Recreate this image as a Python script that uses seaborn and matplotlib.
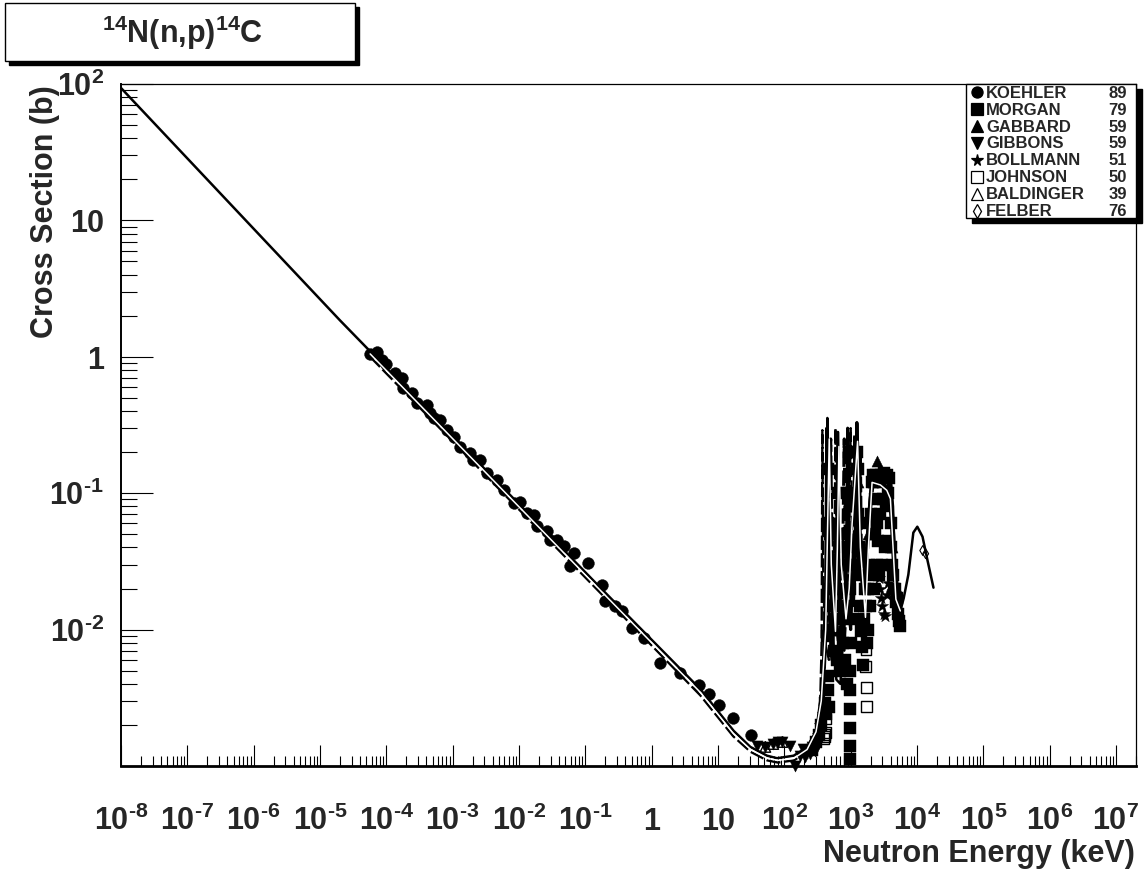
import numpy as np
import pandas as pd
import matplotlib
matplotlib.use("Agg")
import matplotlib.pyplot as plt
import seaborn as sns
from matplotlib.ticker import FixedLocator, LogLocator, NullFormatter
from matplotlib.transforms import offset_copy
from matplotlib.patches import Rectangle
from matplotlib.lines import Line2D

# ---------------- data (energy in keV, cross section in b) ----------------
curveA_E = [1e-8, 2.0e-5, 0.168, 5.4, 17.2, 30.7, 54.8, 77.6, 138, 220, 311, 392, 430, 445, 462,
            490, 540, 608, 700, 800, 870, 923, 960, 1000, 1100, 1200, 1260, 1330, 1450, 1670,
            1850, 2120, 2500, 2800, 3300, 3970, 4400, 4700, 5200, 5600, 6300, 7400, 8800,
            10100, 12100, 14300, 17700]
curveA_sig = [93.5, 1.85, 0.0203, 3.66e-3, 1.81e-3, 1.38e-3, 1.19e-3, 1.14e-3, 1.19e-3, 1.37e-3,
              1.86e-3, 3.09e-3, 0.0166, 0.356, 0.09, 0.025, 0.009, 4.3e-3, 4.0e-3, 0.012, 0.06,
              0.278, 0.05, 0.0166, 0.022, 0.08, 0.32, 0.08, 0.04, 0.0326, 0.07, 0.137, 0.14,
              0.142, 0.14, 0.137, 0.06, 0.0326, 0.018, 0.0137, 0.017, 0.0253, 0.0514, 0.0568,
              0.048, 0.0326, 0.0203]

curveC_E = [5.7e-5, 0.17, 5.4, 17, 31, 55, 80, 140, 220, 300, 345, 365, 374, 384, 410, 470, 540,
            575, 590, 610, 680, 800, 930, 1000, 1060, 1150, 1280, 1380, 1600, 1800, 2050, 2400,
            3000, 3800, 4300, 4800, 5400]
curveC_sig = [1.0, 0.0185, 3.3e-3, 1.65e-3, 1.27e-3, 1.1e-3, 1.06e-3, 1.1e-3, 1.28e-3, 1.7e-3,
              2.6e-3, 8e-3, 0.29, 0.03, 8e-3, 6e-3, 0.012, 0.06, 0.30, 0.05, 9e-3, 7e-3, 0.03,
              0.30, 0.04, 0.02, 0.26, 0.05, 0.03, 0.05, 0.13, 0.135, 0.13, 0.125, 0.05, 0.02, 0.012]

curveD_E = [300, 380, 420, 435, 450, 520, 600, 640, 680, 780, 870, 900, 940, 1100, 1200, 1240,
            1300, 1500, 1700, 2000, 2300, 2800, 3300, 3900, 4300, 4600, 5000, 5600]
curveD_sig = [1.7e-3, 4e-3, 0.02, 0.30, 0.02, 6e-3, 0.02, 0.28, 0.02, 8e-3, 0.03, 0.30, 0.03,
              0.015, 0.05, 0.33, 0.05, 0.02, 0.03, 0.10, 0.14, 0.14, 0.14, 0.14, 0.08, 0.03,
              0.015, 0.012]

curveE_E = [320, 400, 470, 500, 530, 700, 760, 800, 840, 1000, 1120, 1150, 1180, 1350, 1400,
            1450, 1650, 1900, 2200, 2600, 3200, 3700, 4100, 4500, 5200]
curveE_sig = [2e-3, 5e-3, 0.03, 0.25, 0.02, 6e-3, 0.04, 0.25, 0.02, 0.01, 0.05, 0.27, 0.04,
              0.03, 0.2, 0.03, 0.02, 0.06, 0.125, 0.13, 0.125, 0.12, 0.06, 0.025, 0.012]

curveW_E = [5.7e-5, 0.17, 5.4, 17, 31, 55, 80, 140, 220, 300, 360, 420, 475, 510, 590, 630, 665,
            720, 850, 950, 1050, 1270, 1400, 1670, 1850, 2100, 2800, 3500, 3970, 4800, 5600]
curveW_sig = [1.05, 0.0193, 3.47e-3, 1.73e-3, 1.32e-3, 1.14e-3, 1.1e-3, 1.14e-3, 1.32e-3, 1.78e-3,
              3.0e-3, 0.01, 0.25, 0.03, 9.7e-3, 0.04, 0.22, 0.03, 0.012, 0.02, 0.06, 0.24, 0.04,
              0.0123, 0.04, 0.12, 0.115, 0.105, 0.091, 0.0167, 0.0137]

koehler_E = [5.70e-5, 7.2e-5, 8.55e-5, 9.84e-5, 1.36e-4, 1.71e-4, 1.81e-4, 2.43e-4, 2.88e-4,
             4.08e-4, 4.58e-4, 5.14e-4, 6.48e-4, 8.17e-4, 1.03e-3, 1.30e-3, 1.84e-3, 2.06e-3,
             2.60e-3, 3.28e-3, 4.64e-3, 5.84e-3, 8.26e-3, 0.0104, 0.0131, 0.0166, 0.0186, 0.0264,
             0.0295, 0.0372, 0.0469, 0.0664, 0.0590, 0.111, 0.178, 0.200, 0.282, 0.356, 0.505,
             0.755, 1.32, 2.70, 5.09, 7.21, 10.5, 16.8, 31.5]
koehler_sig = [1.057, 1.086, 0.944, 0.893, 0.755, 0.694, 0.586, 0.539, 0.456, 0.443, 0.385, 0.354,
               0.344, 0.291, 0.259, 0.219, 0.196, 0.175, 0.175, 0.140, 0.125, 0.106, 0.0847,
               0.0869, 0.0715, 0.0695, 0.0571, 0.0525, 0.0456, 0.0456, 0.0407, 0.0365, 0.0291,
               0.0308, 0.0214, 0.0161, 0.0149, 0.0137, 0.0103, 8.73e-3, 5.67e-3, 4.84e-3,
               3.93e-3, 3.36e-3, 2.79e-3, 2.24e-3, 1.69e-3]

morgan_E = [415, 420, 440, 450, 452, 455, 455, 460, 465,
            520, 560, 600, 620, 700, 700, 760, 800, 820, 880,
            940, 960, 970, 980, 990, 990, 990, 990, 990, 1000,
            1300, 1350, 1400, 1450, 1500, 1550, 1600, 1700,
            1900, 2000, 2100, 2200, 2300, 2400, 2500, 2600, 2700, 2900,
            3000, 3200, 3300, 3500, 3600, 3800, 4000,
            4200, 4500, 4800, 5100, 5400, 5600,
            260, 300, 330, 360,
            1800, 1850, 1950, 2050, 2250, 2350, 2450, 2550, 2800, 3100, 3400, 3700, 4100, 4400,
            4700, 5000, 1750, 1620,
            480, 500, 540, 580, 650, 660, 720, 740, 780, 850, 900, 910, 1050, 1100, 1150, 1200,
            1250, 1270, 1380, 1420]
morgan_sig = [2.9e-3, 2.4e-3, 9e-3, 0.02, 0.06, 0.15, 4.6e-3, 3.6e-3, 2.7e-3,
              0.01, 7e-3, 0.03, 6e-3, 5e-3, 0.02, 8e-3, 0.03, 6e-3, 4e-3,
              0.2, 0.08, 0.02, 5e-3, 3.6e-3, 2.6e-3, 1.9e-3, 1.4e-3, 1.13e-3, 8e-3,
              0.15, 0.04, 0.015, 9.7e-3, 7.5e-3, 5.5e-3, 0.012, 0.015,
              0.03, 0.07, 0.12, 0.137, 0.05, 0.137, 0.03, 0.13, 0.025, 0.135,
              0.03, 0.14, 0.04, 0.135, 0.045, 0.13, 0.06,
              0.03, 0.02, 0.016, 0.013, 0.0115, 0.0107,
              1.3e-3, 1.5e-3, 1.7e-3, 2.0e-3,
              0.01, 0.02, 0.015, 0.025, 0.02, 0.09, 0.06, 0.045, 0.07, 0.09, 0.08, 0.1, 0.04, 0.025,
              0.02, 0.017, 0.008, 0.02,
              0.05, 0.02, 0.015, 0.012, 0.1, 0.04, 0.012, 0.05, 0.015, 0.015, 0.1, 0.04, 0.03,
              0.012, 0.08, 0.03, 0.2, 0.07, 0.025, 0.06]

gabbard_E = [2500, 700, 1000, 1300, 1800, 2200, 3000, 3500, 4200, 5000]
gabbard_sig = [0.172, 0.01, 0.1, 0.12, 0.05, 0.12, 0.12, 0.11, 0.04, 0.02]

gibbons_E = [39.2, 51.7, 68, 80, 93.3, 123, 146, 174, 194, 207, 247, 264, 294, 326]
gibbons_sig = [1.40e-3, 1.38e-3, 1.45e-3, 1.5e-3, 1.50e-3, 1.40e-3, 1.0e-3, 1.18e-3, 1.34e-3,
               1.16e-3, 1.23e-3, 1.38e-3, 1.29e-3, 1.45e-3]

bollmann_E = [200, 230, 260, 290, 320, 350, 380, 2700, 2800, 2900, 3000, 3150, 3300, 3500, 3700]
bollmann_sig = [1.25e-3, 1.3e-3, 1.4e-3, 1.5e-3, 1.7e-3, 2.0e-3, 2.4e-3, 0.024, 0.02, 0.017,
                0.015, 0.013, 0.0125, 0.018, 0.022]

johnson_E = [415, 415, 395, 400, 405, 1670, 1730, 1730, 1700]
johnson_sig = [2.21e-3, 1.77e-3, 1.6e-3, 1.65e-3, 1.7e-3, 5.38e-3, 3.77e-3, 2.75e-3, 7.2e-3]

baldinger_E = [51.7, 68, 93.3]
baldinger_sig = [1.38e-3, 1.45e-3, 1.5e-3]

felber_E = [12200, 13500]
felber_sig = [0.038, 0.036]

legend_names = ["KOEHLER", "MORGAN", "GABBARD", "GIBBONS", "BOLLMANN", "JOHNSON", "BALDINGER", "FELBER"]
legend_counts = ["89", "79", "59", "59", "51", "50", "39", "76"]

x_tick_exps = list(range(-8, 8))
y_tick_exps = [-2, -1, 0, 1, 2]

title_text = r"$^{14}$N(n,p)$^{14}$C"
xlabel_text = "Neutron Energy (keV)"
ylabel_text = "Cross Section (b)"

# ---------------- style ----------------
sns.set_theme(style="white")
plt.rcParams["font.family"] = ["Liberation Sans", "DejaVu Sans"]
plt.rcParams["font.weight"] = "bold"
plt.rcParams["mathtext.fontset"] = "custom"
plt.rcParams["mathtext.rm"] = "Liberation Sans:bold"
plt.rcParams["mathtext.bf"] = "Liberation Sans:bold"
plt.rcParams["mathtext.it"] = "Liberation Sans:bold"
plt.rcParams["mathtext.sf"] = "Liberation Sans:bold"
plt.rcParams["mathtext.default"] = "rm"

W, H = 1144, 870
fig = plt.figure(figsize=(W / 100, H / 100), dpi=100)
fig.patch.set_facecolor("white")
L, R, T, B = 121, 1136, 85, 767
ax = fig.add_axes([L / W, 1 - B / H, (R - L) / W, (B - T) / H])
ax.set_facecolor("white")
ax.set_xscale("log")
ax.set_yscale("log")


def fx(px):
    return px / W


def fy(py):
    return 1 - py / H


def exp_label(k):
    if k == 0:
        return "1"
    if k == 1:
        return "10"
    if k < 0:
        return r"$10^{\text{-%d}}$" % (-k)
    return r"$10^{%d}$" % k


# ---------------- markers ----------------
def scat(E, s, marker, filled=True, size=62, z=3, lw=1.0):
    df = pd.DataFrame({"E": E, "sigma": s})
    if filled:
        sns.scatterplot(data=df, x="E", y="sigma", marker=marker, s=size, color="black",
                        edgecolor="black", linewidth=0.3, ax=ax, zorder=z, clip_on=False,
                        legend=False)
    else:
        sns.scatterplot(data=df, x="E", y="sigma", marker=marker, s=size, color="black",
                        facecolor="none", edgecolor="black", linewidth=lw, ax=ax, zorder=z,
                        clip_on=False, legend=False)

scat(koehler_E, koehler_sig, "o", size=72)
scat(morgan_E, morgan_sig, "s", size=64)
scat(gabbard_E, gabbard_sig, "^", size=64)
scat(gibbons_E, gibbons_sig, "v", size=64)
scat(bollmann_E, bollmann_sig, "*", size=85)
scat(johnson_E, johnson_sig, "s", filled=False, size=62)
scat(baldinger_E, baldinger_sig, "^", filled=False, size=58)
scat(felber_E, felber_sig, "d", filled=False, size=25, lw=0.8)

# ---------------- curves ----------------
def curve(E, s, color, lw, ls="-", z=4):
    df = pd.DataFrame({"E": E, "sigma": s})
    sns.lineplot(data=df, x="E", y="sigma", sort=False, estimator=None, color=color,
                 linewidth=lw, linestyle=ls, ax=ax, zorder=z)

curve(curveE_E, curveE_sig, "black", 2.2, (0, (5, 1.2)), z=4)
curve(curveD_E, curveD_sig, "black", 2.2, "-", z=4)
curve(curveC_E, curveC_sig, "black", 1.7, (0, (6, 1.5)), z=4)
curve(curveA_E, curveA_sig, "black", 1.8, "-", z=5)
curve(curveW_E, curveW_sig, "white", 1.1, "-", z=6)

# ---------------- axes ----------------
ax.set_xlim(1e-8, 2.0e7)
ax.set_ylim(1e-3, 1e2)
ax.set_xlabel("")
ax.set_ylabel("")
ax.xaxis.set_major_locator(FixedLocator([10.0 ** k for k in x_tick_exps]))
ax.yaxis.set_major_locator(FixedLocator([10.0 ** k for k in y_tick_exps]))
ax.xaxis.set_minor_locator(LogLocator(base=10, subs=np.arange(2, 10), numticks=400))
ax.yaxis.set_minor_locator(LogLocator(base=10, subs=np.arange(2, 10), numticks=400))
for axis in (ax.xaxis, ax.yaxis):
    axis.set_major_formatter(NullFormatter())
    axis.set_minor_formatter(NullFormatter())
ax.tick_params(axis="x", which="major", direction="in", length=15, width=0.8, color="black",
               bottom=True, top=False)
ax.tick_params(axis="x", which="minor", direction="in", length=7.5, width=0.8, color="black",
               bottom=True, top=False)
ax.tick_params(axis="y", which="major", direction="in", length=23, width=0.8, color="black",
               left=True, right=False)
ax.tick_params(axis="y", which="minor", direction="in", length=11.5, width=0.8, color="black",
               left=True, right=False)
for side, lw in (("left", 1.4), ("bottom", 2.0), ("top", 0.9), ("right", 0.9)):
    ax.spines[side].set_visible(True)
    ax.spines[side].set_color("black")
    ax.spines[side].set_linewidth(lw)
    ax.spines[side].set_zorder(10)

# tick labels as text at the tick positions
xlab_tr = offset_copy(ax.get_xaxis_transform(), fig=fig, x=0, y=-63, units="dots")
for k in x_tick_exps:
    ax.text(10.0 ** k, 0, exp_label(k), transform=xlab_tr, ha="center", va="baseline",
            fontsize=22, fontweight="bold", clip_on=False)
ylab_tr = offset_copy(ax.get_yaxis_transform(), fig=fig, x=-17, y=-11, units="dots")
for k in y_tick_exps:
    ax.text(0, 10.0 ** k, exp_label(k), transform=ylab_tr, ha="right", va="baseline",
            fontsize=22, fontweight="bold", clip_on=False)

fig.text(fx(1135), fy(862), xlabel_text, ha="right", va="baseline", fontsize=22,
         fontweight="bold")
fig.text(fx(45), fy(85), ylabel_text, ha="center", va="top", rotation=90, fontsize=22,
         fontweight="bold")

# ---------------- title box ----------------
fig.add_artist(Rectangle((fx(9), fy(66)), (355 - 5) / W, (62 - 4) / H, transform=fig.transFigure,
                         facecolor="black", edgecolor="black", zorder=20))
fig.add_artist(Rectangle((fx(5), fy(62)), (355 - 5) / W, (62 - 4) / H, transform=fig.transFigure,
                         facecolor="white", edgecolor="black", linewidth=1.0, zorder=21))
fig.text(fx(183), fy(33), title_text, ha="center", va="center", fontsize=22, fontweight="bold",
         zorder=22)

# ---------------- legend box ----------------
lx0, lx1, ly0, ly1 = 966, 1136, 85, 219
fig.add_artist(Rectangle((fx(lx0 + 6), fy(ly1 + 5)), (lx1 - lx0) / W, (ly1 - ly0) / H,
                         transform=fig.transFigure, facecolor="black", edgecolor="black",
                         zorder=20))
fig.add_artist(Rectangle((fx(lx0), fy(ly1)), (lx1 - lx0) / W, (ly1 - ly0) / H,
                         transform=fig.transFigure, facecolor="white", edgecolor="black",
                         linewidth=1.0, zorder=21))
leg_markers = [("o", True, 8), ("s", True, 8), ("^", True, 8), ("v", True, 8),
               ("*", True, 8.5), ("s", False, 8), ("^", False, 8.5), ("d", False, 7)]
for i, (name, cnt) in enumerate(zip(legend_names, legend_counts)):
    yy = fy(93.3 + 16.9 * i)
    m, filled, ms = leg_markers[i]
    fig.add_artist(Line2D([fx(977)], [yy], transform=fig.transFigure, marker=m, markersize=ms,
                          markerfacecolor="black" if filled else "none",
                          markeredgecolor="black", markeredgewidth=0.9, linestyle="none",
                          zorder=22))
    fig.text(fx(986), yy, name, ha="left", va="center", fontsize=12, fontweight="bold",
             zorder=22)
    fig.text(fx(1127), yy, cnt, ha="right", va="center", fontsize=12, fontweight="bold",
             zorder=22)

fig.savefig("out.png", dpi=100, facecolor="white")
